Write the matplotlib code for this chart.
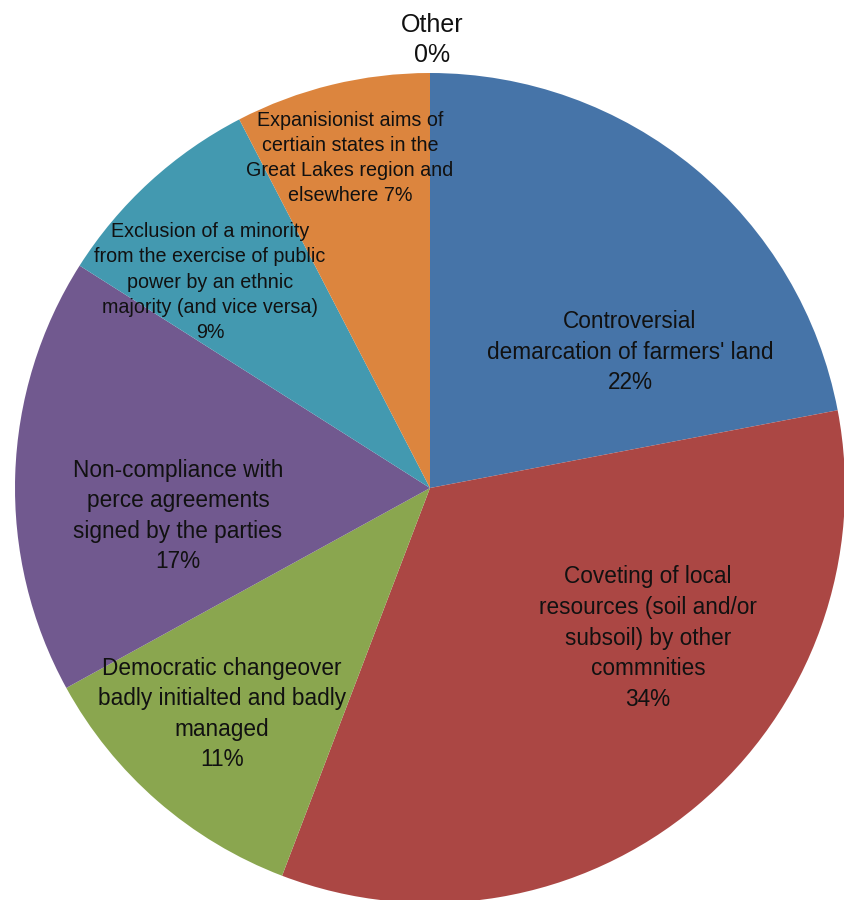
import matplotlib.pyplot as plt

# pie slices, clockwise from 12 o'clock
names = ["Controversial\ndemarcation of farmers' land\n22%",
         "Coveting of local\nresources (soil and/or\nsubsoil) by other\ncommnities\n34%",
         "Democratic changeover\nbadly initialted and badly\nmanaged\n11%",
         "Non-compliance with\nperce agreements\nsigned by the parties\n17%",
         "Exclusion of a minority\nfrom the exercise of public\npower by an ethnic\nmajority (and vice versa)\n9%",
         "Expanisionist aims of\ncertiain states in the\nGreat Lakes region and\nelsewhere 7%",
         "Other\n0%"]
values = [22.0, 33.8, 11.2, 17.0, 8.4, 7.6, 0.0]
colors = ["#4674a8", "#ab4744", "#8aa64f", "#71598f", "#4399b0", "#dc853e", "#cccccc"]

# label centres in pixels (x, y from top), font size, line spacing
label_pos = [(630, 352), (648, 638), (222, 714), (178, 516), (210, 282), (350, 158), (432, 40)]
label_size = [16.3, 16.3, 16.3, 16.3, 14.2, 14.2, 18]
label_ls = [1.42, 1.42, 1.42, 1.42, 1.41, 1.41, 1.31]

W, H = 844, 900
cx, cy, R = 430, 488, 415

plt.rcParams['font.family'] = ['Liberation Sans', 'DejaVu Sans']
fig = plt.figure(figsize=(W / 100, H / 100), dpi=100)
ax = fig.add_axes([0, 0, 1, 1])
ax.pie(values, colors=colors, startangle=90, counterclock=False,
       wedgeprops=dict(linewidth=0))
ax.set_xlim(-cx / R, (W - cx) / R)
ax.set_ylim(-(H - cy) / R, cy / R)
ax.set_aspect('auto')
ax.axis('off')

for name, (px, py), fs, ls in zip(names, label_pos, label_size, label_ls):
    fig.text(px / W, 1 - py / H, name, ha='center', va='center',
             fontsize=fs, linespacing=ls, color='#111111')

fig.savefig("out.png", dpi=100)
